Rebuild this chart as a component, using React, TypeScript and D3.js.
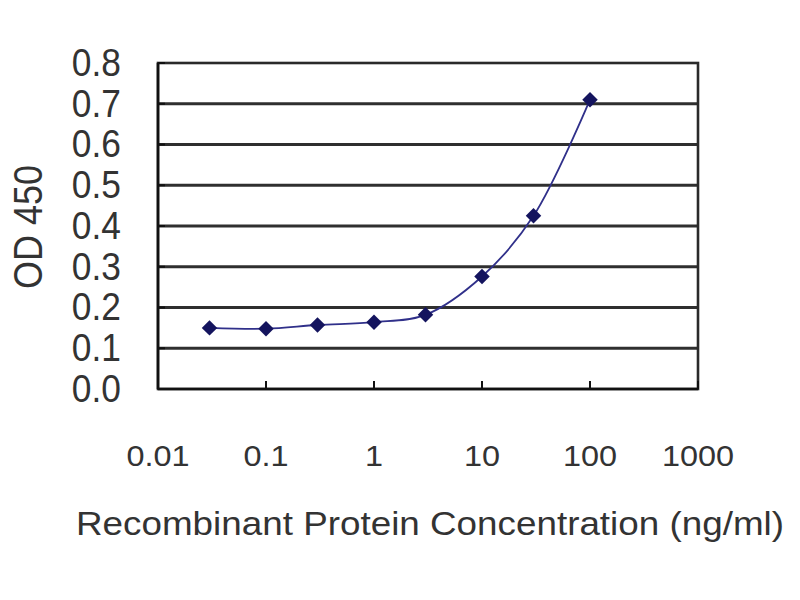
import React from "react"
import * as d3 from "d3"

const concentrations = [0.03, 0.1, 0.3, 1, 3, 10, 30, 100]
const od450 = [0.15, 0.148, 0.157, 0.164, 0.182, 0.276, 0.425, 0.71]
const yTicks = [0, 0.1, 0.2, 0.3, 0.4, 0.5, 0.6, 0.7, 0.8]
const xTicks = [0.01, 0.1, 1, 10, 100, 1000]
const xTickLabels = ["0.01", "0.1", "1", "10", "100", "1000"]

const W = 800
const H = 600
const PLOT = { left: 158, right: 698, top: 63, bottom: 389 }
const FONT = "'Liberation Sans', Arial, Helvetica, sans-serif"
const TEXT = "#333"

export default function App() {
  const x = d3.scaleLog().domain([0.01, 1000]).range([PLOT.left, PLOT.right])
  const y = d3.scaleLinear().domain([0, 0.8]).range([PLOT.bottom, PLOT.top])

  const points = concentrations.map((c, i) => [x(c), y(od450[i])] as [number, number])
  const line = d3.line().curve(d3.curveCatmullRom.alpha(0.5))(points) ?? ""
  // square turned 45deg -> wide diamond like the Excel marker
  const marker = d3.symbol(d3.symbolSquare, 120)() ?? ""

  return (
    <svg
      width={W}
      height={H}
      style={{ position: "absolute", left: 0, top: 0, background: "#fff" }}
    >
      {/* Gridlines */}
      {yTicks.slice(1, -1).map((t) => (
        <line key={t} x1={PLOT.left} x2={PLOT.right} y1={y(t)} y2={y(t)} stroke="#2f2f2f" strokeWidth={3} />
      ))}

      {/* Plot frame */}
      <rect
        x={PLOT.left}
        y={PLOT.top}
        width={PLOT.right - PLOT.left}
        height={PLOT.bottom - PLOT.top}
        fill="none"
        stroke="#2a2a2a"
        strokeWidth={2.6}
      />
      <line x1={PLOT.left} x2={PLOT.left} y1={PLOT.top} y2={PLOT.bottom} stroke="#111" strokeWidth={2.6} />
      <line x1={PLOT.left} x2={PLOT.right} y1={PLOT.bottom} y2={PLOT.bottom} stroke="#111" strokeWidth={2.6} />

      {/* Inside ticks */}
      {yTicks.map((t) => (
        <line key={`yt${t}`} x1={PLOT.left} x2={PLOT.left + 7} y1={y(t)} y2={y(t)} stroke="#111" strokeWidth={2} />
      ))}
      {xTicks.map((t) => (
        <line key={`xt${t}`} x1={x(t)} x2={x(t)} y1={PLOT.bottom} y2={PLOT.bottom - 8} stroke="#111" strokeWidth={2} />
      ))}

      {/* Y tick labels */}
      {yTicks.map((t) => (
        <text
          key={`yl${t}`}
          transform={`translate(121,${y(t)}) scale(1.04,1.12)`}
          textAnchor="end"
          dominantBaseline="central"
          fontFamily={FONT}
          fontSize={34}
          fill={TEXT}
        >
          {t.toFixed(1)}
        </text>
      ))}

      {/* X tick labels */}
      {xTicks.map((t, i) => (
        <text
          key={`xl${t}`}
          transform={`translate(${x(t)},466) scale(1.08,1)`}
          textAnchor="middle"
          fontFamily={FONT}
          fontSize={30}
          fill={TEXT}
        >
          {xTickLabels[i]}
        </text>
      ))}

      {/* Axis titles */}
      <text
        transform="translate(42,227) rotate(-90) scale(1,1.15)"
        textAnchor="middle"
        fontFamily={FONT}
        fontSize={36}
        fill={TEXT}
      >
        OD 450
      </text>
      <text
        x={430}
        y={535}
        textAnchor="middle"
        fontFamily={FONT}
        fontSize={33}
        fill={TEXT}
        textLength={708}
        lengthAdjust="spacingAndGlyphs"
      >
        Recombinant Protein Concentration (ng/ml)
      </text>

      {/* Series */}
      <path d={line} fill="none" stroke="#30308a" strokeWidth={1.8} />
      {points.map(([px, py], i) => (
        <path key={`p${i}`} d={marker} transform={`translate(${px},${py}) rotate(45)`} fill="#14145e" />
      ))}
    </svg>
  )
}
